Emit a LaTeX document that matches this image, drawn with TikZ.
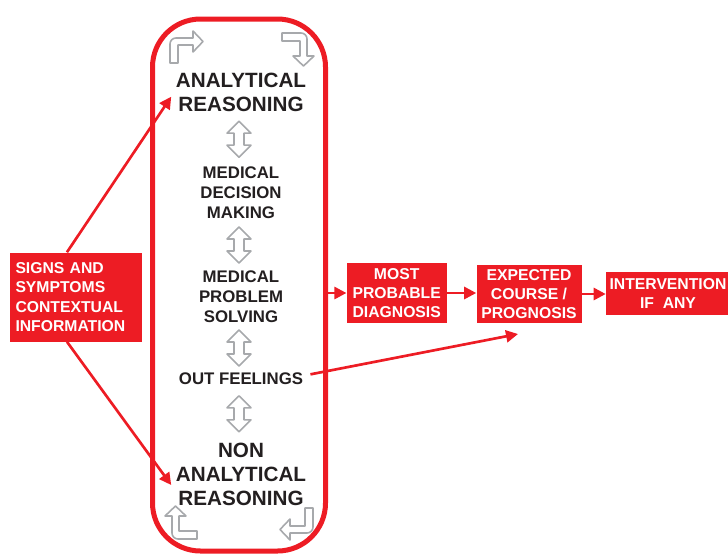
\documentclass[tikz,border=0pt]{standalone}
\usepackage{fontspec}
\setmainfont{Liberation Sans}
\usepackage{tikz}
\usetikzlibrary{arrows.meta,calc}

\definecolor{diagred}{RGB}{237,28,36}
\definecolor{arrowgray}{RGB}{167,169,172}
\definecolor{inkblack}{RGB}{35,31,32}

\tikzset{
	frame/.style={draw=diagred, line width=3.75pt, rounded corners=36pt, minimum width=129.75pt, minimum height=399pt},
	mode/.style={text=inkblack, font=\bfseries\fontsize{15.5}{18}\selectfont, align=center},
	stage/.style={text=inkblack, font=\bfseries\fontsize{12.6}{15}\selectfont, align=center},
	redbox/.style={fill=diagred, text=white, font=\bfseries\fontsize{11.8}{14.5}\selectfont, align=center, inner sep=2pt},
	infobox/.style={redbox, align=left, text width=90pt, inner xsep=4.5pt, minimum height=66.75pt},
	link/.style={draw=diagred, line width=2pt, -{Triangle[length=9pt,width=9pt]}},
	hollow/.style={draw=arrowgray, line width=1.2pt, line join=round},
	updown/.pic={
		\draw[hollow] (0,-18) -- (12,-6) -- (5,-6) -- (5,6) -- (12,6) -- (0,18) -- (-12,6) -- (-5,6) -- (-5,-6) -- (-12,-6) -- cycle;
	},
	bent/.pic={
		\draw[hollow] (0,0) -- (0,-19) .. controls (0,-22.3) and (2.7,-25) .. (6,-25) -- (23,-25) -- (23,-32) -- (33,-21.5) -- (23,-11) -- (23,-18) -- (8,-18) -- (8,0) -- cycle;
	}
}

\begin{document}
\begin{tikzpicture}[x=0.75pt, y=-0.75pt]
	\useasboundingbox (0,0) rectangle (728,554);
	% Loop and reasoning labels:
	\node[frame] (loop) at (239,285) {};
	\node[mode] (anal) at (241,92) {ANALYTICAL\\REASONING};
	\node[stage] (decis) at (241,193) {MEDICAL\\DECISION\\MAKING};
	\node[stage] (solve) at (241,297) {MEDICAL\\PROBLEM\\SOLVING};
	\node[stage] (feel) at (241,379) {OUT FEELINGS};
	\node[mode] (nonanal) at (241,474) {NON\\ANALYTICAL\\REASONING};
	% Hollow arrows:
	\pic[xshift=-1.5pt] at ($(anal.south)!0.5!(decis.north)$) {updown};
	\pic[xshift=-1.5pt] at ($(decis.south)!0.5!(solve.north)$) {updown};
	\pic[xshift=-1.5pt] at ($(solve.south)!0.5!(feel.north)$) {updown};
	\pic[xshift=-1.5pt] at ($(feel.south)!0.5!(nonanal.north)$) {updown};
	\pic at (170,63) {bent};
	\pic[rotate=-90] at (282,33) {bent};
	\pic[rotate=180] at (313,508) {bent};
	\pic[rotate=90] at (197,539) {bent};
	% Red boxes:
	\node[infobox] (sympt) at (75.5,297) {SIGNS AND\\SYMPTOMS\\CONTEXTUAL\\INFORMATION};
	\node[redbox, minimum width=75pt, minimum height=44.5pt] (diag) at (396.7,293) {MOST\\PROBABLE\\DIAGNOSIS};
	\node[redbox, minimum width=78.75pt, minimum height=43.75pt] (prog) at (529,294) {EXPECTED\\COURSE /\\PROGNOSIS};
	\node[redbox, minimum width=93pt, minimum height=32.25pt] (interv) at (668,293.5) {INTERVENTION\\IF\ \ ANY};
	\coordinate (progin) at (518,334);
	% Arrows:
	\draw[link] ([xshift=-6.4pt]sympt.north) -- ([yshift=-3.5pt]anal.west);
	\draw[link] ([xshift=-6.4pt]sympt.south) -- ([yshift=-8.25pt]nonanal.west);
	\draw[link] (diag.west -| loop.east) -- (diag.west);
	\draw[link] (diag.east) -- (diag.east -| prog.west);
	\draw[link] (prog.east) -- (prog.east -| interv.west);
	\draw[link] ([xshift=2pt,yshift=3.5pt]feel.east) -- (progin);
\end{tikzpicture}
\end{document}
